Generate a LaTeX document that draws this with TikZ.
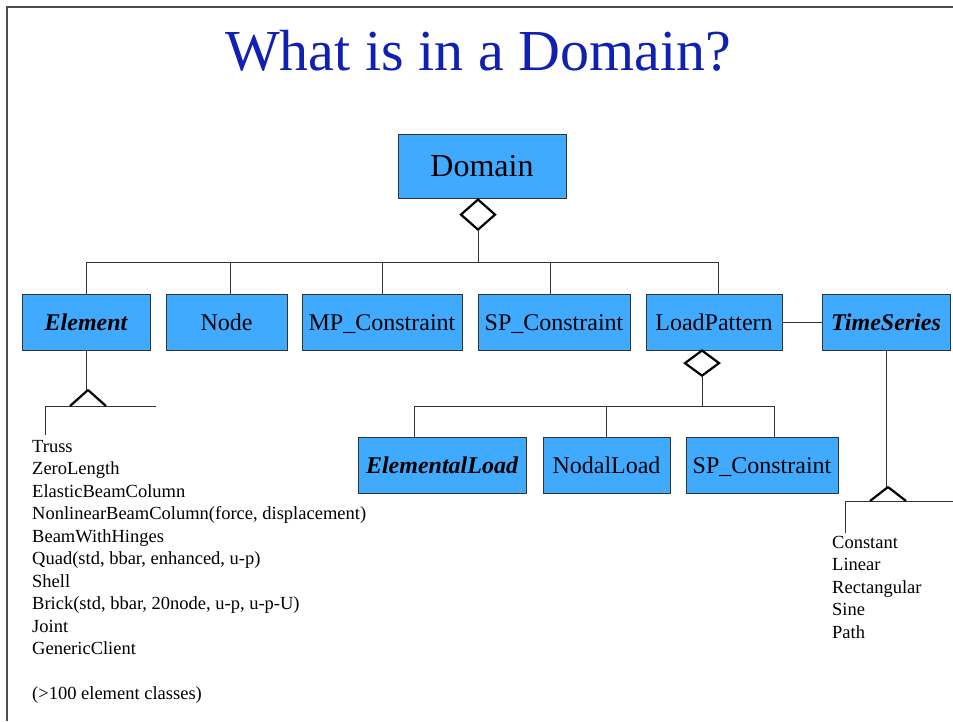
\documentclass[tikz,border=0pt]{standalone}
\usepackage{fontspec}
\setmainfont{Liberation Serif}
\usepackage{tikz}
\usetikzlibrary{shapes.geometric}
\definecolor{clsblue}{RGB}{64,170,255}
\definecolor{titleblue}{RGB}{16,32,176}

\begin{document}
\begin{tikzpicture}[x=1pt, y=-1pt,
		cls/.style={draw=black!80, fill=clsblue, line width=1pt, inner sep=0pt, minimum height=56, text height=18, text depth=2, font=\fontsize{24}{28}\selectfont},
		abscls/.style={cls, font=\fontsize{24}{28}\selectfont\bfseries\itshape},
		agg/.style={draw, diamond, line width=2.2pt, inner sep=0pt, minimum width=35, fill=white},
		gen/.style={line width=2.2pt},
		lnk/.style={draw=black!80, line width=1pt},
		lst/.style={anchor=base west, inner sep=0pt, font=\fontsize{18.5}{22.5}\selectfont}]
		\useasboundingbox (0, 0) rectangle (953, 721);
		\draw[black!70, line width=1.2pt](7, 721)--(7, 7)--(953, 7);
		\node[anchor=base, text=titleblue, font=\fontsize{58}{64}\selectfont](title)at(478, 70){What is in a Domain?};
		\node[cls, minimum width=168, minimum height=64, text height=22, font=\fontsize{32}{36}\selectfont](domain)at(482, 166){Domain};
		\node[agg, minimum height=31, anchor=north](aggD)at(478, 198){};
		\node[abscls, minimum width=128](element)at(86, 322){Element};
		\node[cls, minimum width=121](node)at(226.5, 322){Node};
		\node[cls, minimum width=160](mpc)at(382, 322){MP\_Constraint};
		\node[cls, minimum width=152](spc)at(554, 322){SP\_Constraint};
		\node[cls, minimum width=136](loadpat)at(714, 322){LoadPattern};
		\node[abscls, minimum width=128](tseries)at(886, 322){TimeSeries};
		\node[agg, minimum height=26, anchor=north](aggL)at(702, 349){};
		\node[abscls, minimum width=168](eload)at(442, 465.5){ElementalLoad};
		\node[cls, minimum width=127](nload)at(606.5, 465.5){NodalLoad};
		\node[cls, minimum width=152](spc2)at(762, 465.5){SP\_Constraint};
		\coordinate(busD)at(478, 262);
		\coordinate(busL)at(702, 406);
		\draw[lnk](aggD.south)--(busD);
		\foreach \n/\dx in {element/0, node/3.5, mpc/0, spc/-4, loadpat/4}
			\draw[lnk]([xshift=\dx]\n.north)|-(busD);
		\draw[lnk](aggL.south)--(busL);
		\foreach \n/\dx in {eload/-28, nload/0, spc2/12}
			\draw[lnk]([xshift=\dx]\n.north)|-(busL);
		\draw[lnk](loadpat.east)--(tseries.west);
		% subclasses of Element
		\coordinate(genE)at(88, 390);
		\coordinate(subEl)at(45, 406);
		\coordinate(subEr)at(156, 406);
		\draw[lnk](element.south)--(element.south|-genE);
		\draw[lnk](subEl|-0, 435)--(subEl)--(subEr);
		\draw[gen](genE)--++(-18, 16)(genE)--++(18, 16);
		\foreach \t[count=\i] in {Truss, ZeroLength, ElasticBeamColumn, {NonlinearBeamColumn(force, displacement)}, BeamWithHinges, {Quad(std, bbar, enhanced, u-p)}, Shell, {Brick(std, bbar, 20node, u-p, u-p-U)}, Joint, GenericClient}
			\node[lst](el\i)at(32, 452+22.5*\i-22.5){\t};
		\node[lst](elnote)at(32, 699.5){(>100 element classes)};
		% subclasses of TimeSeries
		\coordinate(genT)at(888, 487);
		\coordinate(subTl)at(845, 501);
		\coordinate(subTr)at(953, 501);
		\draw[lnk](tseries.south)--(tseries.south|-genT);
		\draw[lnk](subTl|-0, 533)--(subTl)--(subTr);
		\draw[gen](genT)--++(-18, 14)(genT)--++(18, 14);
		\foreach \t[count=\i] in {Constant, Linear, Rectangular, Sine, Path}
			\node[lst](ts\i)at(832, 548+22.5*\i-22.5){\t};
	\end{tikzpicture}
\end{document}
